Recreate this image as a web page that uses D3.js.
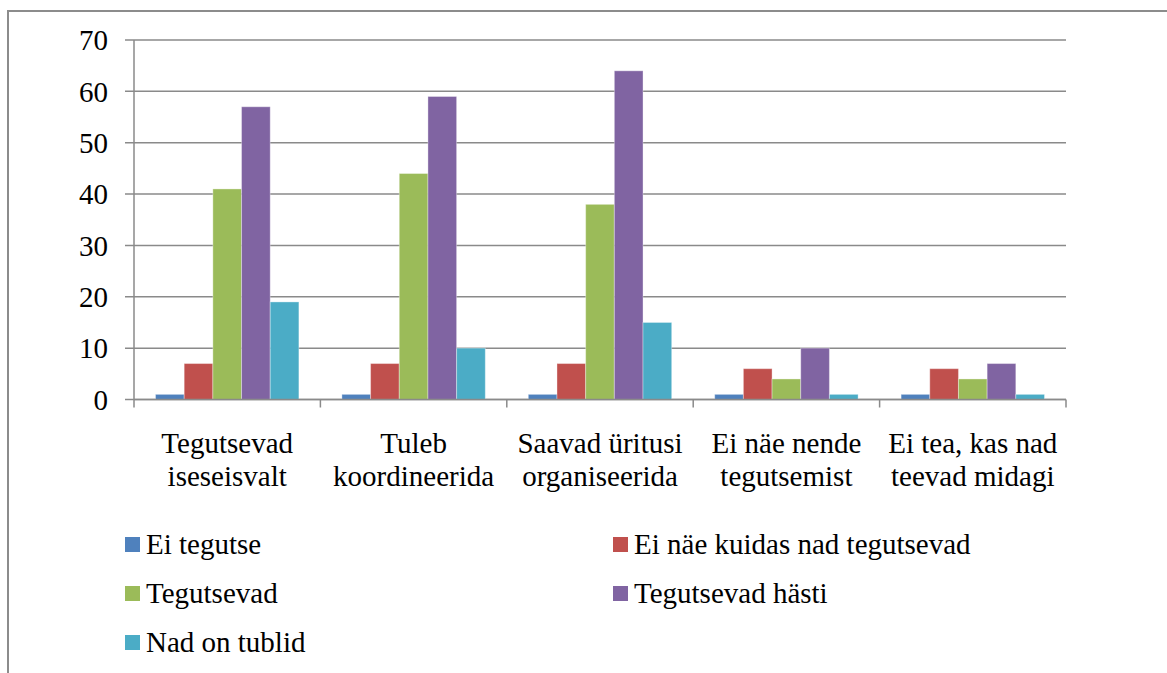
<!DOCTYPE html>
<html>
<head>
<meta charset="utf-8">
<script src="https://cdn.jsdelivr.net/npm/d3@7"></script>
<style>
  body { margin: 0; background: #fff; }
</style>
</head>
<body>
<div id="chart"></div>
<script>
// categories (two-line labels) and series
var categories = [
    ["Tegutsevad", "iseseisvalt"],
    ["Tuleb", "koordineerida"],
    ["Saavad üritusi", "organiseerida"],
    ["Ei näe nende", "tegutsemist"],
    ["Ei tea, kas nad", "teevad midagi"]
];
var seriesNames = ["Ei tegutse", "Ei näe kuidas nad tegutsevad", "Tegutsevad", "Tegutsevad hästi", "Nad on tublid"];
var seriesColors = ["#4F81BD", "#C0504D", "#9BBB59", "#8064A2", "#4BACC6"];
var eiTegutse     = [1, 1, 1, 1, 1];
var eiNaeKuidas   = [7, 7, 7, 6, 6];
var tegutsevad    = [41, 44, 38, 4, 4];
var tegutsevadHasti = [57, 59, 64, 10, 7];
var nadOnTublid   = [19, 10, 15, 1, 1];
var yTicks = [0, 10, 20, 30, 40, 50, 60, 70];

var series = [eiTegutse, eiNaeKuidas, tegutsevad, tegutsevadHasti, nadOnTublid];

var FONT = "'Times New Roman', Tinos, 'Liberation Serif', 'DejaVu Serif', serif";
var W = 1167, H = 673;
var margin = { top: 40, left: 134, right: 101, bottom: 273 };
var width = W - margin.left - margin.right;
var height = 399.5 - margin.top;

var svg = d3.select("#chart").append("svg")
    .attr("width", W)
    .attr("height", H)
    .style("font-family", FONT);

// outer frame (top + left only visible)
svg.append("path")
    .attr("d", "M8," + H + " V11 H" + W)
    .attr("fill", "none")
    .attr("stroke", "#8c8c8c")
    .attr("stroke-width", 2);

var g = svg.append("g")
    .attr("transform", `translate(${margin.left}, ${margin.top})`);

var x0 = d3.scaleBand().domain(d3.range(categories.length)).range([0, width]).padding(0);
var gap = x0.bandwidth() * 1.5 / (series.length + 1.5);
var x1 = d3.scaleBand().domain(d3.range(series.length)).range([gap / 2, x0.bandwidth() - gap / 2]).padding(0);
var y = d3.scaleLinear().domain([0, 70]).range([height, 0]);

// gridlines
g.append("g")
    .selectAll("line")
    .data(yTicks)
    .enter()
    .append("line")
    .attr("x1", -9)
    .attr("x2", width)
    .attr("y1", d => y(d))
    .attr("y2", d => y(d))
    .attr("stroke", "#8a8a8a")
    .attr("stroke-width", 1.5);

// y axis line
g.append("line")
    .attr("x1", 0).attr("x2", 0)
    .attr("y1", 0).attr("y2", height)
    .attr("stroke", "#8a8a8a")
    .attr("stroke-width", 1.5);

// y tick labels
g.append("g")
    .selectAll("text")
    .data(yTicks)
    .enter()
    .append("text")
    .attr("x", -26)
    .attr("y", d => y(d))
    .attr("dy", "0.35em")
    .attr("text-anchor", "end")
    .style("font-family", FONT)
    .style("font-size", "29px")
    .text(d => d);

// bars
var groups = g.selectAll(".cat")
    .data(categories)
    .enter()
    .append("g")
    .attr("class", "cat")
    .attr("transform", (d, i) => `translate(${x0(i)}, 0)`);

groups.selectAll("rect")
    .data((d, i) => series.map((s, j) => ({ j: j, value: s[i] })))
    .enter()
    .append("rect")
    .attr("x", d => x1(d.j))
    .attr("y", d => y(d.value))
    .attr("width", x1.bandwidth())
    .attr("height", d => height - y(d.value))
    .attr("fill", d => seriesColors[d.j])
    .attr("stroke", "rgba(255,255,255,0.35)")
    .attr("stroke-width", 1);

// x axis line and ticks
g.append("line")
    .attr("x1", 0).attr("x2", width)
    .attr("y1", height).attr("y2", height)
    .attr("stroke", "#8a8a8a")
    .attr("stroke-width", 1.5);

g.append("g")
    .selectAll("line")
    .data(d3.range(categories.length + 1))
    .enter()
    .append("line")
    .attr("x1", d => d * x0.bandwidth())
    .attr("x2", d => d * x0.bandwidth())
    .attr("y1", height)
    .attr("y2", height + 8)
    .attr("stroke", "#8a8a8a")
    .attr("stroke-width", 1.5);

// category labels
var catLabels = g.append("g")
    .selectAll("text")
    .data(categories)
    .enter()
    .append("text")
    .attr("text-anchor", "middle")
    .style("font-family", FONT)
    .style("font-size", "29px")
    .attr("transform", (d, i) => `translate(${x0(i) + x0.bandwidth() / 2}, ${453 - margin.top})`);

catLabels.selectAll("tspan")
    .data(d => d)
    .enter()
    .append("tspan")
    .attr("x", 0)
    .attr("y", (d, i) => i * 33)
    .text(d => d);

// legend
var legend = svg.append("g")
    .selectAll("g")
    .data(seriesNames)
    .enter()
    .append("g")
    .attr("transform", (d, i) => `translate(${i % 2 == 0 ? 125 : 613}, ${554 + Math.floor(i / 2) * 49})`);

legend.append("rect")
    .attr("x", 0)
    .attr("y", -17)
    .attr("width", 15)
    .attr("height", 15)
    .attr("fill", (d, i) => seriesColors[i]);

legend.append("text")
    .attr("x", 21)
    .attr("y", 0)
    .style("font-family", FONT)
    .style("font-size", "29px")
    .text(d => d);
</script>
</body>
</html>
